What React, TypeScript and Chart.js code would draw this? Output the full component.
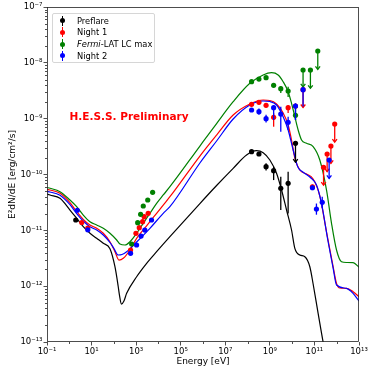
import React, { useEffect, useRef } from "react";
import { Chart, registerables } from "chart.js";

Chart.register(...registerables);

// ---------- axis ticks (exponents of 10) ----------
const xTickExponents = [-1, 1, 3, 5, 7, 9, 11, 13];
const xMinorExponents = [0, 2, 4, 6, 8, 10, 12];
const yTickExponents = [-13, -12, -11, -10, -9, -8, -7];

// ---------- model curves: log10(E [eV]) and log10(E²dN/dE [erg/cm²/s]) ----------
const preflareModelLogE = [-1, -0.865, -0.417, 0.031, 0.332, 0.628, 0.928, 1.229, 1.525, 1.825, 2.049, 2.197, 2.251, 2.341, 2.453, 2.574, 3.022, 3.471, 3.919, 4.516, 5.861, 6.61, 7.354, 7.955, 8.404, 8.7, 9.0, 9.3, 9.525, 9.749, 9.973, 10.121, 10.345, 10.57, 10.794, 10.942, 11.166, 11.39, 11.45];
const preflareModelLogF = [-10.349, -10.367, -10.427, -10.636, -10.785, -10.935, -11.053, -11.143, -11.232, -11.33, -11.652, -12.01, -12.159, -12.32, -12.266, -12.128, -11.831, -11.591, -11.383, -11.114, -10.52, -10.197, -9.889, -9.651, -9.574, -9.61, -9.74, -9.979, -10.278, -10.636, -10.994, -11.322, -11.442, -11.473, -11.652, -11.961, -12.486, -13.0, -13.12];

const night1ModelLogE = [-1, -0.865, -0.417, 0.031, 0.332, 0.628, 0.928, 1.229, 1.525, 1.825, 2.049, 2.229, 2.422, 2.722, 3.022, 3.318, 3.619, 3.919, 4.215, 4.516, 5.861, 6.61, 7.354, 8.103, 8.7, 9.0, 9.3, 9.596, 9.821, 9.973, 10.121, 10.345, 10.646, 10.942, 11.242, 11.543, 11.839, 11.991, 12.139, 12.439, 12.735, 13.0];
const night1ModelLogF = [-10.269, -10.278, -10.337, -10.505, -10.667, -10.803, -10.905, -10.964, -11.053, -11.204, -11.383, -11.532, -11.501, -11.352, -11.143, -10.994, -10.846, -10.695, -10.547, -10.398, -9.669, -9.293, -8.934, -8.737, -8.666, -8.675, -8.737, -8.899, -9.114, -9.382, -9.705, -9.92, -9.991, -10.081, -10.385, -11.03, -11.652, -11.949, -12.033, -12.039, -12.099, -12.189];

const fermiModelLogE = [-1, -0.865, -0.417, 0.031, 0.332, 0.628, 0.928, 1.229, 1.525, 1.825, 2.126, 2.274, 2.498, 2.722, 3.022, 3.318, 3.619, 3.919, 4.215, 4.516, 5.861, 6.61, 7.354, 8.103, 8.7, 9.076, 9.372, 9.596, 9.821, 9.973, 10.121, 10.269, 10.422, 10.646, 10.942, 11.242, 11.543, 11.767, 11.991, 12.215, 12.439, 12.735, 13.0];
const fermiModelLogF = [-10.233, -10.247, -10.308, -10.457, -10.577, -10.726, -10.846, -10.905, -10.964, -11.053, -11.173, -11.245, -11.263, -11.204, -11.053, -10.874, -10.695, -10.516, -10.367, -10.219, -9.49, -9.087, -8.696, -8.367, -8.218, -8.177, -8.218, -8.338, -8.517, -8.725, -8.965, -9.203, -9.382, -9.441, -9.499, -9.74, -10.278, -10.874, -11.352, -11.562, -11.576, -11.58, -11.66];

const night2ModelLogE = [-1, -0.865, -0.417, 0.031, 0.332, 0.628, 0.928, 1.229, 1.525, 1.825, 2.004, 2.197, 2.363, 2.574, 3.022, 3.619, 4.215, 4.516, 5.861, 6.61, 7.354, 8.103, 8.7, 9.0, 9.3, 9.596, 9.821, 10.045, 10.256, 10.48, 10.794, 11.094, 11.332, 11.601, 11.839, 11.991, 12.439, 12.735, 13.0];
const night2ModelLogF = [-10.305, -10.314, -10.373, -10.541, -10.699, -10.833, -10.935, -10.994, -11.084, -11.218, -11.326, -11.442, -11.433, -11.383, -11.209, -10.964, -10.695, -10.577, -9.794, -9.4, -9.006, -8.755, -8.684, -8.693, -8.755, -8.965, -9.203, -9.561, -9.866, -9.955, -10.045, -10.188, -10.547, -11.173, -11.675, -11.979, -12.039, -12.128, -12.266];

// ---------- measured points (log10 values), error bar ends, upper-limit flags ----------
const preflareLogE = [0.29, 8.18, 8.51, 8.83, 9.17, 9.49, 9.82, 10.15];
const preflareLogF = [-10.815, -9.592, -9.633, -9.86, -9.932, -10.247, -10.158, -9.441];
const preflareLogLo = [null, -9.63, -9.67, -9.93, -10.1, -10.636, -10.7, -9.78];
const preflareLogHi = [null, -9.56, -9.6, -9.8, -9.86, -10.04, -9.95, -9.441];
const preflareUL = [false, false, false, false, false, false, false, true];

const night1LogE = [0.56, 0.83, 2.75, 2.99, 3.14, 3.29, 3.36, 3.54, 8.18, 8.51, 8.83, 9.17, 9.82, 10.15, 10.49, 10.91, 11.41, 11.57, 11.74, 11.91];
const night1LogF = [-10.86, -10.96, -11.352, -11.053, -10.953, -10.845, -10.756, -10.695, -8.743, -8.707, -8.761, -8.976, -8.804, -8.773, -8.481, -10.22, -9.871, -9.633, -9.49, -9.096];
const night1LogLo = [null, null, null, null, null, null, null, null, -8.78, -8.74, -8.8, -9.144, -8.9, -8.81, -8.8, -10.26, -10.19, -9.95, -9.8, -9.42];
const night1LogHi = [null, null, null, null, null, null, null, null, -8.71, -8.68, -8.72, -8.904, -8.76, -8.74, -8.481, -10.18, -9.871, -9.633, -9.49, -9.096];
const night1UL = [false, false, false, false, false, false, false, false, false, false, false, false, false, false, true, false, true, true, true, true];

const fermiLogE = [2.8, 3.07, 3.2, 3.32, 3.52, 3.74, 8.18, 8.51, 8.83, 9.17, 9.49, 9.82, 10.15, 10.49, 10.82, 11.15];
const fermiLogF = [-11.245, -10.863, -10.713, -10.564, -10.457, -10.319, -8.338, -8.29, -8.266, -8.402, -8.463, -8.505, -8.94, -8.128, -8.128, -7.788];
const fermiLogLo = [null, null, null, null, null, null, -8.36, -8.31, -8.29, -8.43, -8.54, -8.61, -9.02, -8.43, -8.456, -8.116];
const fermiLogHi = [null, null, null, null, null, null, -8.32, -8.27, -8.245, -8.375, -8.42, -8.43, -8.81, -8.128, -8.128, -7.788];
const fermiUL = [false, false, false, false, false, false, false, false, false, false, false, false, false, true, true, true];

const night2LogE = [0.36, 0.83, 2.75, 3.02, 3.22, 3.39, 3.69, 8.18, 8.51, 8.83, 9.17, 9.49, 9.82, 10.15, 10.49, 10.91, 11.09, 11.35, 11.66];
const night2LogF = [-10.64, -10.99, -11.412, -11.263, -11.102, -10.995, -10.815, -8.845, -8.875, -9.001, -8.804, -8.917, -9.065, -8.773, -8.481, -10.237, -10.618, -10.498, -9.74];
const night2LogLo = [null, null, null, null, null, null, null, -8.88, -8.93, -9.07, -9.024, -9.233, -9.203, -9.024, -8.78, -10.28, -10.72, -10.6, -10.07];
const night2LogHi = [null, null, null, null, null, null, null, -8.81, -8.82, -8.93, -8.755, -8.786, -8.965, -8.725, -8.46, -10.19, -10.52, -10.4, -9.74];
const night2UL = [false, false, false, false, false, false, false, false, false, false, false, false, false, false, false, false, false, false, true];

const seriesLabels = ["Preflare", "Night 1", "Fermi-LAT LC max", "Night 2"];
const seriesColors = ["#000000", "#ff0000", "#008000", "#0000ff"];

const SUP: Record<string, string> = {
  "-": "\u207B", "0": "\u2070", "1": "\u00B9", "2": "\u00B2", "3": "\u00B3",
  "4": "\u2074", "5": "\u2075", "6": "\u2076", "7": "\u2077", "8": "\u2078", "9": "\u2079",
};
const pow10Label = (e: number) => "10" + String(e).split("").map((c) => SUP[c]).join("");
const p10 = (v: number) => Math.pow(10, v);

const FONT = "DejaVu Sans";

function curveDataset(label: string, color: string, logE: number[], logF: number[], order: number) {
  return {
    type: "scatter",
    label,
    data: logE.map((e, i) => ({ x: p10(e), y: p10(logF[i]) })),
    showLine: true,
    borderColor: color,
    backgroundColor: color,
    borderWidth: 1.2,
    pointRadius: 0,
    cubicInterpolationMode: "monotone",
    order,
    isModel: true,
  };
}

function pointDataset(
  label: string, color: string, logE: number[], logF: number[],
  logLo: (number | null)[], logHi: (number | null)[], ul: boolean[], order: number
) {
  return {
    type: "scatter",
    label,
    data: logE.map((e, i) => ({ x: p10(e), y: p10(logF[i]) })),
    errLo: logLo.map((v) => (v === null ? null : p10(v))),
    errHi: logHi.map((v) => (v === null ? null : p10(v))),
    upperLimit: ul,
    showLine: false,
    backgroundColor: color,
    borderColor: color,
    pointRadius: 2.6,
    pointBorderWidth: 0,
    order,
  };
}

const errorBarPlugin = {
  id: "errorBars",
  beforeDatasetDraw(chart: any, args: any) {
    const ds = chart.data.datasets[args.index];
    if (!ds.errLo) return;
    const { ctx, chartArea } = chart;
    const xs = chart.scales.x;
    const ys = chart.scales.y;
    ctx.save();
    ctx.beginPath();
    ctx.rect(chartArea.left, chartArea.top, chartArea.right - chartArea.left, chartArea.bottom - chartArea.top);
    ctx.clip();
    ctx.strokeStyle = ds.borderColor;
    ctx.lineWidth = 1.3;
    ds.data.forEach((pt: any, i: number) => {
      const lo = ds.errLo[i];
      const hi = ds.errHi[i];
      if (lo === null || hi === null) return;
      const px = xs.getPixelForValue(pt.x);
      const pLo = ys.getPixelForValue(lo);
      const pHi = ys.getPixelForValue(hi);
      ctx.beginPath();
      ctx.moveTo(px, pHi);
      ctx.lineTo(px, pLo);
      ctx.stroke();
      if (ds.upperLimit[i]) {
        ctx.beginPath();
        ctx.moveTo(px - 2.3, pLo - 3);
        ctx.lineTo(px, pLo);
        ctx.lineTo(px + 2.3, pLo - 3);
        ctx.stroke();
      }
    });
    ctx.restore();
  },
};

const framePlugin = {
  id: "frame",
  afterDraw(chart: any) {
    const { ctx, chartArea } = chart;
    const xs = chart.scales.x;
    const ys = chart.scales.y;
    ctx.save();
    ctx.strokeStyle = "#222";
    ctx.lineWidth = 0.8;
    // minor ticks on y
    yTickExponents.slice(0, -1).forEach((e) => {
      for (let k = 2; k <= 9; k++) {
        const py = Math.round(ys.getPixelForValue(k * p10(e))) + 0.5;
        ctx.beginPath();
        ctx.moveTo(chartArea.left, py);
        ctx.lineTo(chartArea.left - 2, py);
        ctx.stroke();
      }
    });
    // minor ticks on x
    xMinorExponents.forEach((e) => {
      const px = Math.round(xs.getPixelForValue(p10(e))) + 0.5;
      ctx.beginPath();
      ctx.moveTo(px, chartArea.bottom);
      ctx.lineTo(px, chartArea.bottom + 2);
      ctx.stroke();
    });
    ctx.strokeRect(chartArea.left + 0.5, chartArea.top + 0.5, chartArea.right - chartArea.left - 1, chartArea.bottom - chartArea.top - 1);
    ctx.restore();
  },
};

const legendRows = [
  { label: "Preflare", color: seriesColors[0] },
  { label: "Night 1", color: seriesColors[1] },
  { label: "Fermi-LAT LC max", color: seriesColors[2], italicPrefix: "Fermi", rest: "-LAT LC max" },
  { label: "Night 2", color: seriesColors[3] },
];

export default function App() {
  const canvasRef = useRef<HTMLCanvasElement>(null);

  useEffect(() => {
    document.body.style.margin = "0";
    Chart.defaults.font.family = FONT;
    const tickFont = { family: FONT, size: 8.5 };
    const chart = new Chart(canvasRef.current as HTMLCanvasElement, {
      type: "scatter",
      data: {
        datasets: [
          pointDataset(seriesLabels[3], seriesColors[3], night2LogE, night2LogF, night2LogLo, night2LogHi, night2UL, 1),
          pointDataset(seriesLabels[2], seriesColors[2], fermiLogE, fermiLogF, fermiLogLo, fermiLogHi, fermiUL, 2),
          pointDataset(seriesLabels[1], seriesColors[1], night1LogE, night1LogF, night1LogLo, night1LogHi, night1UL, 3),
          pointDataset(seriesLabels[0], seriesColors[0], preflareLogE, preflareLogF, preflareLogLo, preflareLogHi, preflareUL, 4),
          curveDataset(seriesLabels[3] + " model", seriesColors[3], night2ModelLogE, night2ModelLogF, 11),
          curveDataset(seriesLabels[2] + " model", seriesColors[2], fermiModelLogE, fermiModelLogF, 12),
          curveDataset(seriesLabels[1] + " model", seriesColors[1], night1ModelLogE, night1ModelLogF, 13),
          curveDataset(seriesLabels[0] + " model", seriesColors[0], preflareModelLogE, preflareModelLogF, 14),
        ] as any,
      },
      options: {
        responsive: false,
        animation: false,
        events: [],
        layout: { padding: { top: 7, right: 15, left: 0, bottom: 0 } },
        plugins: { legend: { display: false }, tooltip: { enabled: false } },
        scales: {
          x: {
            type: "logarithmic",
            min: p10(-1),
            max: p10(13),
            afterBuildTicks: (s: any) => {
              s.ticks = xTickExponents.map((e) => ({ value: p10(e) }));
            },
            afterFit: (s: any) => {
              s.height = 32;
            },
            ticks: {
              autoSkip: false,
              maxRotation: 0,
              color: "#000",
              font: tickFont,
              padding: 1,
              callback: (v: any) => pow10Label(Math.round(Math.log10(Number(v)))),
            },
            grid: { drawOnChartArea: false, drawTicks: true, tickLength: 3.5, tickColor: "#222", tickWidth: 0.8 },
            border: { display: false },
            title: {
              display: true,
              text: "Energy [eV]",
              color: "#000",
              font: { family: FONT, size: 9 },
              padding: { top: 0, bottom: 6.5 },
            },
          },
          y: {
            type: "logarithmic",
            min: p10(-13),
            max: p10(-7),
            afterBuildTicks: (s: any) => {
              s.ticks = yTickExponents.map((e) => ({ value: p10(e) }));
            },
            afterFit: (s: any) => {
              s.width = 47;
            },
            ticks: {
              autoSkip: false,
              color: "#000",
              font: tickFont,
              padding: 1,
              callback: (v: any) => pow10Label(Math.round(Math.log10(Number(v)))),
            },
            grid: { drawOnChartArea: false, drawTicks: true, tickLength: 3.5, tickColor: "#222", tickWidth: 0.8 },
            border: { display: false },
            title: {
              display: true,
              text: "E\u00B2dN/dE [erg/cm\u00B2/s]",
              color: "#000",
              font: { family: FONT, size: 9 },
              padding: { top: 7.5, bottom: 0 },
            },
          },
        },
      } as any,
      plugins: [errorBarPlugin, framePlugin],
    });
    return () => chart.destroy();
  }, []);

  return (
    <div style={{ position: "relative", width: 374, height: 374, background: "#fff", fontFamily: FONT }}>
      <canvas ref={canvasRef} width={374} height={374} style={{ display: "block", width: 374, height: 374 }} />
      <div
        style={{
          position: "absolute", left: 52, top: 13, width: 103, height: 50,
          border: "1px solid #d6d6d6", borderRadius: 2, background: "rgba(255,255,255,0.85)",
          boxSizing: "border-box",
        }}
      />
      {legendRows.map((r, i) => (
        <div key={r.label} style={{ position: "absolute", left: 0, top: 20.7 + i * 11.75, width: 374, height: 0 }}>
          <div style={{ position: "absolute", left: 62, top: -5, width: 1.3, height: 10, background: r.color }} />
          <div style={{ position: "absolute", left: 60.2, top: -2.5, width: 5, height: 5, borderRadius: "50%", background: r.color }} />
          <div style={{ position: "absolute", left: 77, top: -6, fontSize: 8.3, lineHeight: "12px", color: "#000", whiteSpace: "nowrap" }}>
            {r.italicPrefix ? (
              <>
                <i>{r.italicPrefix}</i>
                {r.rest}
              </>
            ) : (
              r.label
            )}
          </div>
        </div>
      ))}
      <div
        style={{
          position: "absolute", left: 129, top: 116, transform: "translate(-50%, -50%)",
          color: "#ff0000", fontWeight: "bold", fontSize: 10.5, whiteSpace: "nowrap", lineHeight: "13px",
        }}
      >
        H.E.S.S. Preliminary
      </div>
    </div>
  );
}
